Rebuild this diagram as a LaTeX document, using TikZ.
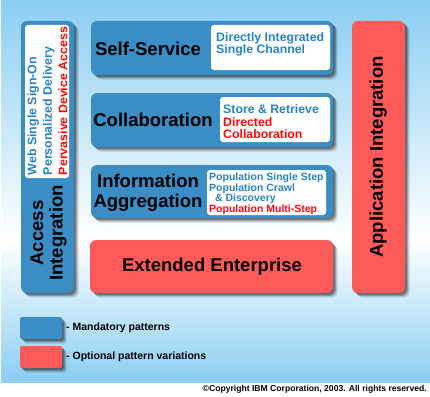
\documentclass[tikz,border=0pt]{standalone}
\usepackage{tikz}
\usetikzlibrary{shadows}
\usepackage{fontspec}
\setmainfont{Liberation Sans}
\usepackage{xcolor}
\definecolor{skyblue}{RGB}{138,206,242}
\definecolor{patblue}{RGB}{58,141,197}
\definecolor{patred}{RGB}{255,90,90}
\definecolor{txtblue}{RGB}{40,130,195}
\definecolor{txtred}{RGB}{250,10,10}
\tikzstyle{softshadow} = [general shadow={fill=black,opacity=.3,shadow xshift=1.5pt,shadow yshift=-1.5pt},
	general shadow={fill=black,opacity=.25,shadow xshift=3pt,shadow yshift=-3pt},
	general shadow={fill=black,opacity=.15,shadow xshift=4.5pt,shadow yshift=-4.5pt}]
\tikzstyle{pattern} = [rounded corners=6pt, inner sep=0pt, softshadow]
\tikzstyle{mandatory} = [pattern, fill=patblue]
\tikzstyle{optional} = [pattern, fill=patred]
\tikzstyle{variants} = [fill=white, rounded corners=3pt, inner sep=0pt]
\tikzstyle{title} = [font=\fontsize{18.5}{19.5}\selectfont\bfseries, align=center, inner sep=0pt]
\tikzstyle{detail} = [font=\fontsize{12.3}{11.5}\selectfont\bfseries, align=left, inner sep=0pt, anchor=north west]
\tikzstyle{legend} = [font=\fontsize{10.5}{12}\selectfont\bfseries, inner sep=0pt, anchor=west]

\begin{document}
\begin{tikzpicture}[x=1pt, y=-1pt]
		\useasboundingbox (0,0) rectangle (430,396);
		\fill[white] (0,0) rectangle (430,396);
		\shade[top color=skyblue, bottom color=white] (1,0) rectangle (430,240);
		\shade[top color=white, bottom color=skyblue] (1,240) rectangle (430,382);

		% access integration column
		\node[mandatory, minimum width=53pt, minimum height=272pt] (access) at (47.5,157) {};
		\node[variants, minimum width=44pt, minimum height=153pt] (accessvar) at (47,101.5) {};
		\node[font=\fontsize{12.4}{15.5}\selectfont\bfseries, align=left, inner sep=0pt, rotate=90] (accesstext) at (47.5,101)
			{\color{txtblue}Web Single Sign-On\\\color{txtblue}Personalized Delivery\\\color{txtred}Pervasive Device Access};
		\node[title, rotate=90] (accesstitle) at (48.5,233) {Access\\Integration};

		% business patterns
		\node[mandatory, minimum width=242pt, minimum height=54pt] (selfsvc) at (212,48) {};
		\node[variants, minimum width=119pt, minimum height=45pt] (selfsvcvar) at (270.5,47.5) {};
		\node[title] (selfsvctitle) at (148,49) {Self-Service};
		\node[detail, text=txtblue] (selfsvctext) at (216,32) {Directly Integrated\\Single Channel};

		\node[mandatory, minimum width=242pt, minimum height=54pt] (collab) at (212,120) {};
		\node[variants, minimum width=110pt, minimum height=45pt] (collabvar) at (275,119.5) {};
		\node[title] (collabtitle) at (153,120) {Collaboration};
		\node[detail] (collabtext) at (223,104.5)
			{\color{txtblue}Store \& Retrieve\\[1.5pt]\color{txtred}Directed\\\color{txtred}Collaboration};

		\node[mandatory, minimum width=242pt, minimum height=53pt] (infoagg) at (212,191.5) {};
		\node[variants, minimum width=119pt, minimum height=45pt] (infoaggvar) at (266.5,192.5) {};
		\node[title] (infoaggtitle) at (148,193) {Information\\Aggregation};
		\node[detail, font=\fontsize{10.5}{10.4}\selectfont\bfseries] (infoaggtext) at (209,173)
			{\color{txtblue}Population Single Step\\\color{txtblue}Population Crawl\\\color{txtblue}\ \ \& Discovery\\\color{txtred}Population Multi-Step};

		\node[optional, minimum width=243pt, minimum height=53pt] (extent) at (211.5,266.5) {};
		\node[title] (extenttitle) at (212,266.5) {Extended Enterprise};

		% application integration column
		\node[optional, minimum width=53pt, minimum height=272pt] (appint) at (378.5,157) {};
		\node[title, rotate=90] (appinttitle) at (378,157) {Application Integration};

		% key
		\node[mandatory, rounded corners=2pt, minimum width=42pt, minimum height=22pt] (keyman) at (41,328) {};
		\node[legend] (keymantext) at (66,328) {- Mandatory patterns};
		\node[optional, rounded corners=2pt, minimum width=42pt, minimum height=22pt] (keyopt) at (41,357) {};
		\node[legend] (keyopttext) at (66,357) {- Optional pattern variations};

		\node[font=\fontsize{8.6}{10}\selectfont\bfseries, inner sep=0pt, anchor=east] (copyright) at (427,389)
			{©Copyright IBM Corporation, 2003. All rights reserved.};
	\end{tikzpicture}
\end{document}
